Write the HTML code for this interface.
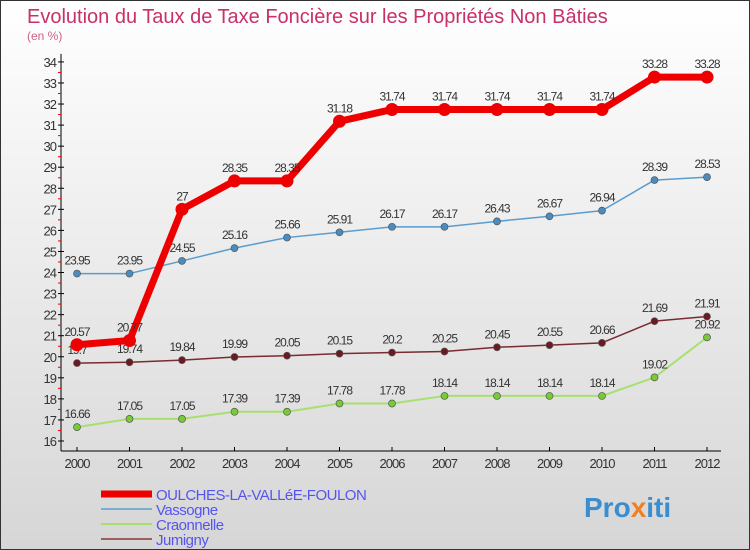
<!DOCTYPE html>
<html><head><meta charset="utf-8"><style>
body{margin:0;}
#c{width:750px;height:550px;position:relative;overflow:hidden;box-sizing:border-box;border:1px solid #333;background:linear-gradient(#ffffff,#d6d6d6);font-family:"Liberation Sans",sans-serif;}
svg{position:absolute;left:0;top:0}
</style></head><body>
<div id="c">
<svg id="s" width="750" height="550">
<text x="26" y="22" font-size="20" fill="#c8306a" font-weight="300">Evolution du Taux de Taxe Foncière sur les Propriétés Non Bâties</text>
<text x="26" y="39" font-size="12" fill="#d06088">(en %)</text>
<text x="583" y="516" font-size="28" font-weight="bold" fill="#3a8ed0">Pro<tspan fill="#f08020">x</tspan>iti</text>
</svg>
</div>
<script>
const years=[2000,2001,2002,2003,2004,2005,2006,2007,2008,2009,2010,2011,2012];
const yTicks=[16,17,18,19,20,21,22,23,24,25,26,27,28,29,30,31,32,33,34];
const oulches=[20.57,20.77,27,28.35,28.35,31.18,31.74,31.74,31.74,31.74,31.74,33.28,33.28];
const vassogne=[23.95,23.95,24.55,25.16,25.66,25.91,26.17,26.17,26.43,26.67,26.94,28.39,28.53];
const craonnelle=[16.66,17.05,17.05,17.39,17.39,17.78,17.78,18.14,18.14,18.14,18.14,19.02,20.92];
const jumigny=[19.7,19.74,19.84,19.99,20.05,20.15,20.2,20.25,20.45,20.55,20.66,21.69,21.91];
const names=["OULCHES-LA-VALLéE-FOULON","Vassogne","Craonnelle","Jumigny"];
const s=document.getElementById('s');const NS="http://www.w3.org/2000/svg";
const X=i=>76+i*52.5, Y=v=>440-(v-16)*21.06;
function mk(t,a,p){const e=document.createElementNS(NS,t);for(const k in a)e.setAttribute(k,a[k]);(p||s).appendChild(e);return e;}
let e;
e=mk('line',{x1:60,y1:Y(34)-8,x2:60,y2:450,stroke:'#000'});


e=mk('line',{x1:60,y1:450,x2:720,y2:450,stroke:'#000'});


yTicks.forEach(v=>{mk('line',{x1:57,y1:Y(v),x2:63,y2:Y(v),stroke:'#000'});
 if(v<34)mk('line',{x1:57,y1:Y(v+0.5),x2:60,y2:Y(v+0.5),stroke:'#e00'});
 e=mk('text',{x:55,y:Y(v)+5,'font-size':13,'text-anchor':'end',fill:'#333','letter-spacing':'-1'});e.textContent=v;
 
 });
years.forEach((y,i)=>{mk('line',{x1:X(i),y1:446,x2:X(i),y2:450,stroke:'#000'});
 e=mk('text',{x:X(i),y:467,'font-size':13,'text-anchor':'middle',fill:'#333','letter-spacing':'-1'});e.textContent=y;
 
 });
function series(d,col,w,r,fill,nm){
 e=mk('polyline',{points:d.map((v,i)=>X(i)+','+Y(v)).join(' '),fill:'none',stroke:col,'stroke-width':w,'stroke-linejoin':'round'});
 
 
 d.forEach((v,i)=>{e=mk('circle',{cx:X(i),cy:Y(v),r:r,fill:fill,stroke:'#555','stroke-width':r>5?0:0.7});
  
  
  e=mk('text',{x:X(i),y:Y(v)-9,'font-size':12,'text-anchor':'middle',fill:'#333','letter-spacing':'-1'});e.textContent=v;
  
  });}
series(craonnelle,'#a8e070',2,3.5,'#77cc33','craonnelle');
series(jumigny,'#7a2a30',1.5,3.5,'#6a1a20','jumigny');
series(vassogne,'#5a9ccc',1.5,3.5,'#4a8cc0','vassogne');
series(oulches,'#ee0000',7,6.5,'#ee0000','oulches');
const lc=['#ee0000','#7aaed0','#a8e070','#9a6060'],lw=[7,2,2,2];
names.forEach((n,i)=>{const y=493+i*15;
 e=mk('line',{x1:100,y1:y,x2:151,y2:y,stroke:lc[i],'stroke-width':lw[i]});
 
 
 e=mk('text',{x:155,y:y+6,'font-size':15,fill:'#5555ee','letter-spacing':'-0.5'});e.textContent=n;
 
 });
</script>
</body></html>
